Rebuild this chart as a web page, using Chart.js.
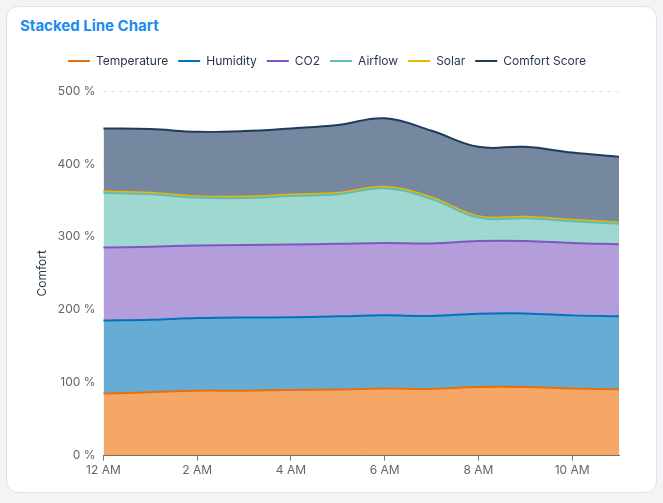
<!DOCTYPE html>
<html>
<head>
<meta charset="utf-8">
<script src="https://cdn.jsdelivr.net/npm/chart.js@4.4.0/dist/chart.umd.min.js"></script>
<style>
  html, body { margin: 0; padding: 0; background: #f4f4f6; }
  #card { position: absolute; left: 6px; top: 6px; width: 651px; height: 487px; box-sizing: border-box;
          border: 1px solid #dfe1ee; border-radius: 12px; background: #fff; }
  #title { position: absolute; left: 13px; top: 9px; font: 700 15px Inter, "Noto Sans", sans-serif; color: #1a8cf0; }
  #wrap { position: absolute; left: 8px; top: 38px; width: 630px; height: 436px; }
</style>
</head>
<body>
<div id="card">
  <div id="title">Stacked Line Chart</div>
  <div id="wrap"><canvas id="c"></canvas></div>
</div>
<script>
const labels = ["12 AM","1 AM","2 AM","3 AM","4 AM","5 AM","6 AM","7 AM","8 AM","9 AM","10 AM","11 AM"];
const temperature = [85, 87, 89, 89, 90, 90.5, 92, 91.5, 94, 94, 92, 91];
const humidity = [100.4, 99.4, 99.6, 100.5, 99.6, 100.5, 100.3, 99.9, 100.6, 101, 100.3, 100];
const co2 = [99.9, 100.1, 99.4, 99.4, 99.9, 99.5, 99.3, 99.6, 99.8, 99.4, 99.2, 98.8];
const airflow = [75.3, 71.8, 65.8, 64.4, 66.5, 67.8, 75, 61, 32, 31, 30, 28];
const solar = [2, 2, 2, 2, 2, 2, 2, 2, 2, 2, 2, 2];
const comfort = [86, 87.5, 88.3, 89.7, 90.7, 93, 94, 91.5, 95, 96, 92, 90];

function ds(label, data, line, fill, first) {
  return { label, data, borderColor: line, backgroundColor: fill, fill: first ? 'origin' : '-1',
           borderWidth: 2, pointRadius: 0, pointHoverRadius: 0, tension: 0.4 };
}

const legendMargin = {
  id: 'legendMargin',
  beforeInit(chart) {
    const orig = chart.legend.fit;
    chart.legend.fit = function () { orig.bind(chart.legend)(); this.height += 14; };
  }
};

new Chart(document.getElementById('c'), {
  type: 'line',
  plugins: [legendMargin],
  data: {
    labels,
    datasets: [
      ds('Temperature', temperature, '#e8700a', 'rgba(237,108,2,0.6)', true),
      ds('Humidity', humidity, '#0074b9', 'rgba(0,116,185,0.6)'),
      ds('CO2', co2, '#7e57c2', 'rgba(128,92,195,0.6)'),
      ds('Airflow', airflow, '#5dbeb1', 'rgba(93,190,177,0.6)'),
      ds('Solar', solar, '#f0b400', 'rgba(240,180,0,0.6)'),
      ds('Comfort Score', comfort, '#1f3a5f', 'rgba(25,57,97,0.6)')
    ]
  },
  options: {
    responsive: true,
    maintainAspectRatio: false,
    animation: false,
    layout: { padding: { left: 20, right: 26, bottom: 0 } },
    plugins: {
      legend: {
        position: 'top',
        labels: {
          usePointStyle: true, pointStyle: 'line', pointStyleWidth: 22, boxHeight: 3,
          color: '#2a3650', font: { family: 'Inter, "Noto Sans", sans-serif', size: 12 }, padding: 10
        }
      },
      tooltip: { enabled: false }
    },
    scales: {
      x: {
        grid: { display: true, drawOnChartArea: false, drawTicks: true, tickLength: 5, color: '#777' },
        border: { display: true, color: '#7a6e66' },
        ticks: {
          color: '#666', font: { family: 'Inter, "Noto Sans", sans-serif', size: 12 }, maxRotation: 0, autoSkip: false,
          callback: function(v, i) { return i % 2 === 0 ? this.getLabelForValue(v) : null; }
        }
      },
      y: {
        stacked: true, min: 0, max: 500,
        grid: { color: '#e6e6e6', drawTicks: false },
        border: { display: false, dash: [4, 4] },
        ticks: { stepSize: 100, padding: 8, color: '#666', font: { family: 'Inter, "Noto Sans", sans-serif', size: 12 },
                 callback: v => v + ' %' },
        title: { display: true, text: 'Comfort', padding: { top: 0, bottom: 0 }, color: '#2a3650',
                 font: { family: 'Inter, "Noto Sans", sans-serif', size: 12 } }
      }
    }
  }
});
</script>
</body>
</html>
